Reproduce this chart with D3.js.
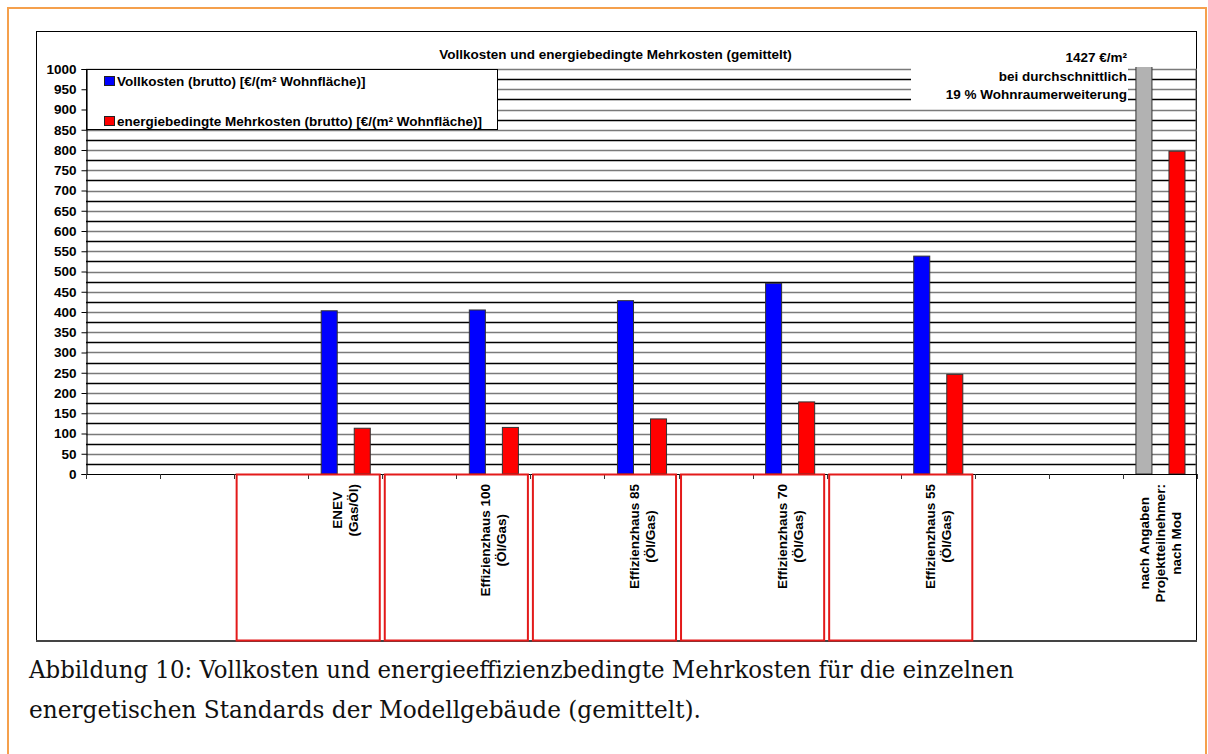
<!DOCTYPE html>
<html>
<head>
<meta charset="utf-8">
<script src="https://cdn.jsdelivr.net/npm/d3@7"></script>
<style>
  html, body { margin: 0; padding: 0; background: #fff; }
  svg { display: block; }
  .lbl { font-family: "Liberation Sans", Arial, sans-serif; font-weight: bold; font-size: 13.5px; fill: #000; }
  .cap { font-family: "DejaVu Serif", serif; font-size: 24px; fill: #111; }
</style>
</head>
<body>
<svg id="chart" width="1208" height="754"></svg>
<script>
// Category labels (line breaks as "\n"); empty slots are unlabeled categories
const categories = ["", "", "", "ENEV\n(Gas/Öl)", "", "Effizienzhaus 100\n(Öl/Gas)", "",
  "Effizienzhaus 85\n(Öl/Gas)", "", "Effizienzhaus 70\n(Öl/Gas)", "", "Effizienzhaus 55\n(Öl/Gas)",
  "", "", "nach Angaben\nProjektteilnehmer:\nnach Mod"];
// Vollkosten (brutto) [€/(m² Wohnfläche)]
const vollkosten = [null, null, null, 403, null, 405, null, 428, null, 471, null, 538, null, null, 1427];
// energiebedingte Mehrkosten (brutto) [€/(m² Wohnfläche)]
const mehrkosten = [null, null, null, 113, null, 115, null, 136, null, 178, null, 246, null, null, 797];
const seriesNames = ["Vollkosten (brutto) [€/(m² Wohnfläche)]", "energiebedingte Mehrkosten (brutto) [€/(m² Wohnfläche)]"];
const yTicks = d3.range(0, 1001, 50);
const gridValues = d3.range(25, 1001, 25);
const title = "Vollkosten und energiebedingte Mehrkosten (gemittelt)";
const noteLines = ["1427 €/m²", "bei durchschnittlich", "19 % Wohnraumerweiterung"];
const captionLines = ["Abbildung 10: Vollkosten und energieeffizienzbedingte Mehrkosten für die einzelnen",
  "energetischen Standards der Modellgebäude (gemittelt)."];
// groups of adjacent categories framed in red below the axis
const framedPairs = [[2, 3], [4, 5], [6, 7], [8, 9], [10, 11]];

const svg = d3.select("#chart");
const L = 86, R = 1197, T = 69, B = 474;

// page frame
svg.append("path")
  .attr("d", "M8,754 V8 H1206 V754")
  .attr("fill", "none").attr("stroke", "#f5a04c").attr("stroke-width", 2);

// chart area frame
svg.append("rect").attr("x", 36.5).attr("y", 31.5).attr("width", 1160).attr("height", 609.5)
  .attr("fill", "#fff").attr("stroke", "#000").attr("stroke-width", 1);
svg.append("line").attr("x1", 36).attr("x2", 1197).attr("y1", 641).attr("y2", 641)
  .attr("stroke", "#444").attr("stroke-width", 2);

const x = d3.scaleBand().domain(d3.range(categories.length)).range([L, R]).padding(0);
const y = d3.scaleLinear().domain([0, 1000]).range([B, T]);
const inner = d3.scaleBand().domain([0, 1]).range([0, x.bandwidth()])
  .paddingInner(0.515).paddingOuter(0.378);

// horizontal gridlines
svg.append("g").selectAll("line").data(gridValues).join("line")
  .attr("x1", L).attr("x2", R)
  .attr("y1", d => Math.round(y(d)) + 0.5).attr("y2", d => Math.round(y(d)) + 0.5)
  .attr("stroke", d => (d % 50 === 0 ? "#7a7a7a" : "#000"))
  .attr("stroke-width", d => (d % 50 === 0 ? 1.6 : 1.4));

// right edge of plot
svg.append("line").attr("x1", R - 1).attr("x2", R - 1).attr("y1", T).attr("y2", B).attr("stroke", "#555");

// bars
svg.append("clipPath").attr("id", "plotClip").append("rect")
  .attr("x", L).attr("y", T - 2).attr("width", R - L).attr("height", B - T + 2);
const barData = [];
categories.forEach((c, i) => {
  if (vollkosten[i] != null) barData.push({ i, s: 0, v: vollkosten[i] });
  if (mehrkosten[i] != null) barData.push({ i, s: 1, v: mehrkosten[i] });
});
svg.append("g").attr("clip-path", "url(#plotClip)").selectAll("rect").data(barData).join("rect")
  .attr("x", d => x(d.i) + inner(d.s) + 0.5)
  .attr("y", d => y(d.v))
  .attr("width", inner.bandwidth())
  .attr("height", d => B - y(d.v))
  .attr("fill", d => d.s === 1 ? "#ff0000" : (d.v > 1000 ? "#b2b2b2" : "#0000ff"))
  .attr("stroke", "#333").attr("stroke-width", 1);

// legend
const lg = svg.append("g");
lg.append("rect").attr("x", L + 0.5).attr("y", T + 0.5).attr("width", 411).attr("height", 60)
  .attr("fill", "#fff").attr("stroke", "#000");
seriesNames.forEach((n, k) => {
  const yy = T + 7 + k * 40;
  lg.append("rect").attr("x", 104.5).attr("y", yy + 0.5).attr("width", 10).attr("height", 9)
    .attr("fill", k === 0 ? "#0000ff" : "#ff0000").attr("stroke", "#222");
  lg.append("text").attr("class", "lbl").attr("x", 117).attr("y", yy + 9.5).text(n);
});

// annotation for the clipped bar
svg.append("rect").attr("x", 911).attr("y", 46).attr("width", 217).attr("height", 58).attr("fill", "#fff");
noteLines.forEach((t, k) => {
  svg.append("text").attr("class", "lbl").attr("x", 1127).attr("y", 62 + k * 18.5)
    .attr("text-anchor", "end").text(t);
});

// title
svg.append("text").attr("class", "lbl").attr("x", 615.5).attr("y", 59)
  .attr("text-anchor", "middle").text(title);

// y axis
const yAxis = d3.axisLeft(y).tickValues(yTicks).tickSize(5).tickPadding(5).tickFormat(d3.format("d"));
const ya = svg.append("g").attr("transform", `translate(${L + 0.5},0)`).call(yAxis);
ya.select(".domain").attr("stroke", "#000").attr("stroke-width", 1.2);
ya.selectAll(".tick line").attr("stroke", "#000");
ya.selectAll(".tick text").attr("class", "lbl").attr("font-family", null).attr("font-size", null);

// x axis: line + boundary ticks
svg.append("line").attr("x1", L).attr("x2", R).attr("y1", B + 0.5).attr("y2", B + 0.5).attr("stroke", "#000").attr("stroke-width", 1.2);
svg.append("g").selectAll("line").data(d3.range(categories.length + 1)).join("line")
  .attr("x1", i => Math.round(L + i * x.step()) + 0.5).attr("x2", i => Math.round(L + i * x.step()) + 0.5)
  .attr("y1", B).attr("y2", B + 5).attr("stroke", "#333");

// red frames below the axis
svg.append("g").selectAll("rect").data(framedPairs).join("rect")
  .attr("x", d => x(d[0]) + 2.5)
  .attr("y", B + 0.5)
  .attr("width", d => x(d[1]) + x.bandwidth() - x(d[0]) - 5)
  .attr("height", 641 - B - 1)
  .attr("fill", "none").attr("stroke", "#e31a1a").attr("stroke-width", 2);

// rotated category labels
const lineH = 16;
categories.forEach((c, i) => {
  if (!c) return;
  const lines = c.split("\n");
  const cx = x(i) + x.bandwidth() / 2;
  const g = svg.append("g");
  const t = g.append("text").attr("class", "lbl").attr("text-anchor", "middle");
  lines.forEach((ln, k) => {
    t.append("tspan").attr("x", 0).attr("y", (k - (lines.length - 1) / 2) * lineH + 5).text(ln);
  });
  let maxW = 0;
  t.selectAll("tspan").each(function () { maxW = Math.max(maxW, this.getComputedTextLength()); });
  g.attr("transform", `translate(${cx},${B + 10 + maxW / 2}) rotate(-90)`);
});

// caption (condensed serif)
const capWidths = [985, 672];
captionLines.forEach((t, k) => {
  svg.append("text").attr("class", "cap").attr("x", 29).attr("y", 678 + k * 40)
    .attr("textLength", capWidths[k]).attr("lengthAdjust", "spacingAndGlyphs").text(t);
});
</script>
</body>
</html>
